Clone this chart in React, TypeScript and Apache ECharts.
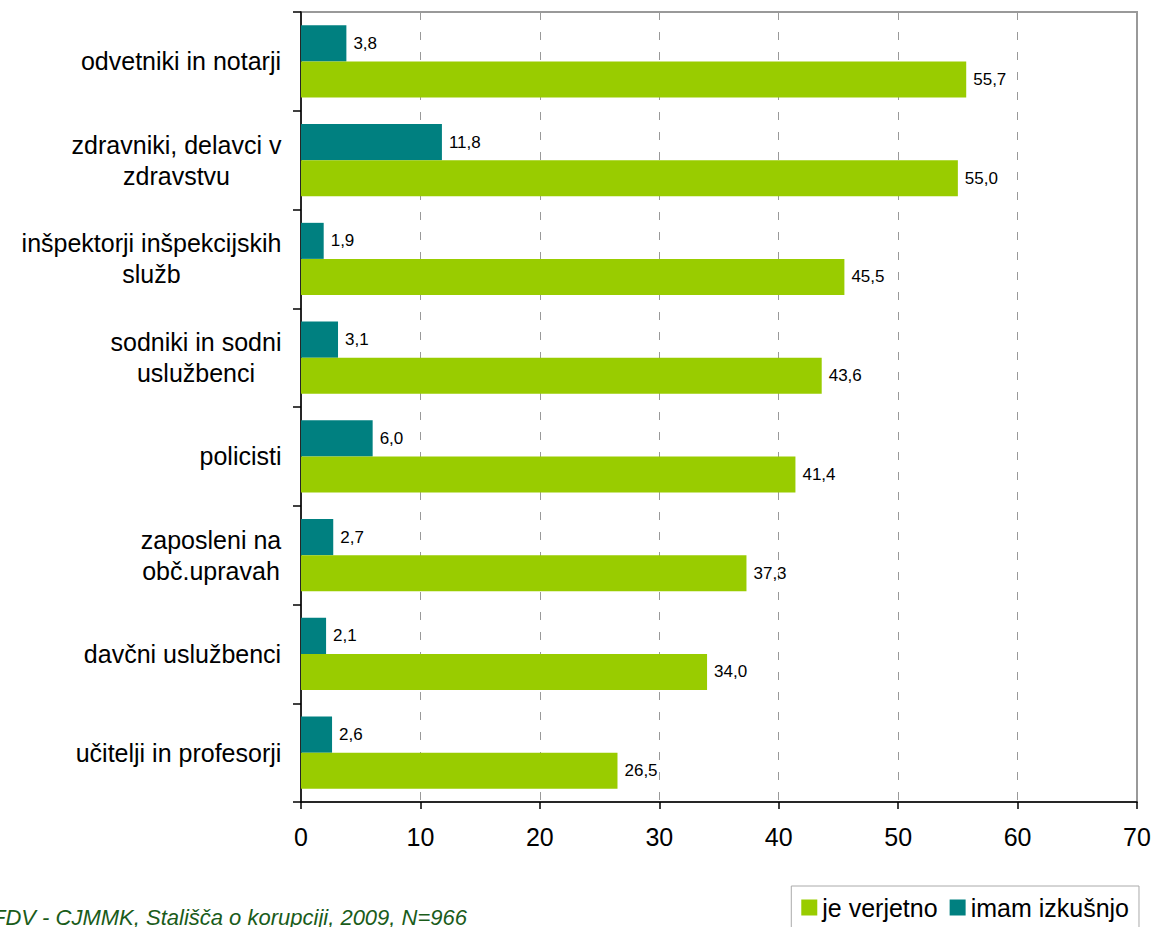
import React, { useEffect, useRef } from "react";
import * as echarts from "echarts";

const categories = [
  "odvetniki in notarji",
  "zdravniki, delavci v\nzdravstvu",
  "inšpektorji inšpekcijskih\nslužb",
  "sodniki in sodni\nuslužbenci",
  "policisti",
  "zaposleni na\nobč.upravah",
  "davčni uslužbenci",
  "učitelji in profesorji",
];
const experience = [3.8, 11.8, 1.9, 3.1, 6.0, 2.7, 2.1, 2.6];
const likely = [55.7, 55.0, 45.5, 43.6, 41.4, 37.3, 34.0, 26.5];
const xTicks = [0, 10, 20, 30, 40, 50, 60, 70];
const seriesNames = ["je verjetno", "imam izkušnjo"];
const sourceText = "FDV - CJMMK, Stališča o korupciji, 2009, N=966";

const FONT = "'Liberation Sans', Arial, sans-serif";
const CAT_SIZE = 25;

function measure(text: string, size: number): number {
  const c = document.createElement("canvas").getContext("2d");
  if (!c) return text.length * size * 0.5;
  c.font = `${size}px 'Liberation Sans', Arial, sans-serif`;
  return c.measureText(text).width;
}

export default function App() {
  const ref = useRef<HTMLDivElement>(null);
  useEffect(() => {
    if (!ref.current) return;
    const chart = echarts.init(ref.current, null, { renderer: "svg" });

    const rich: Record<string, any> = {};
    categories.forEach((cat, i) => {
      const w = Math.max(...cat.split("\n").map((l) => measure(l, CAT_SIZE)));
      rich["c" + i] = {
        width: Math.ceil(w) + 1,
        align: "center",
        fontSize: CAT_SIZE,
        fontFamily: FONT,
        color: "#000",
        lineHeight: 31,
      };
    });

    const fmt = (v: number) => v.toFixed(1).replace(".", ",");

    chart.setOption({
      animation: false,
      backgroundColor: "#fff",
      grid: {
        left: 301,
        right: 17,
        top: 12,
        bottom: 125,
        show: true,
        borderColor: "#999",
        borderWidth: 2,
        outerBoundsMode: "none",
      },
      legend: {
        data: seriesNames,
        right: 15,
        top: 886,
        orient: "horizontal",
        icon: "rect",
        itemWidth: 16,
        itemHeight: 16,
        itemGap: 12,
        padding: [9, 10, 9, 10],
        borderColor: "#aaa",
        borderWidth: 1,
        textStyle: { fontSize: 25, fontFamily: FONT, color: "#000" },
      },
      xAxis: {
        type: "value",
        min: 0,
        max: 70,
        interval: 10,
        axisLine: { show: true, lineStyle: { color: "#000", width: 1.5 } },
        axisTick: { show: true, length: 7, lineStyle: { color: "#000", width: 1.5 } },
        axisLabel: {
          fontSize: 25,
          fontFamily: FONT,
          color: "#000",
          margin: 22,
          formatter: (v: number) => (xTicks.includes(v) ? String(v) : ""),
        },
        splitLine: { show: true, lineStyle: { color: "#999", type: [8, 12], width: 1 } },
      },
      yAxis: {
        type: "category",
        data: categories,
        inverse: true,
        axisLine: { show: true, lineStyle: { color: "#000", width: 1.5 } },
        axisTick: { show: true, length: 8, lineStyle: { color: "#000", width: 1.5 } },
        axisLabel: {
          margin: 19,
          formatter: (value: string, idx: number) =>
            value
              .split("\n")
              .map((l) => `{c${idx}|${l}}`)
              .join("\n"),
          rich,
        },
        splitLine: { show: false },
      },
      series: [
        {
          name: seriesNames[1],
          type: "bar",
          data: experience,
          itemStyle: { color: "#008080" },
          barGap: "0%",
          barCategoryGap: "27%",
          label: {
            show: true,
            position: "right",
            distance: 7,
            fontSize: 17,
            fontFamily: FONT,
            color: "#000",
            formatter: (p: any) => fmt(p.value),
          },
        },
        {
          name: seriesNames[0],
          type: "bar",
          data: likely,
          itemStyle: { color: "#99CC00" },
          barGap: "0%",
          barCategoryGap: "27%",
          label: {
            show: true,
            position: "right",
            distance: 7,
            fontSize: 17,
            fontFamily: FONT,
            color: "#000",
            formatter: (p: any) => fmt(p.value),
          },
        },
      ],
      graphic: [
        {
          type: "text",
          right: 1154 - 467,
          bottom: -1,
          style: {
            text: sourceText,
            fontSize: 22,
            fontStyle: "italic",
            fontFamily: FONT,
            fill: "#1a5c1a",
          },
        },
      ],
    });
    return () => chart.dispose();
  }, []);
  return (
    <div
      ref={ref}
      style={{ position: "fixed", left: 0, top: 0, width: 1154, height: 927 }}
    />
  );
}
